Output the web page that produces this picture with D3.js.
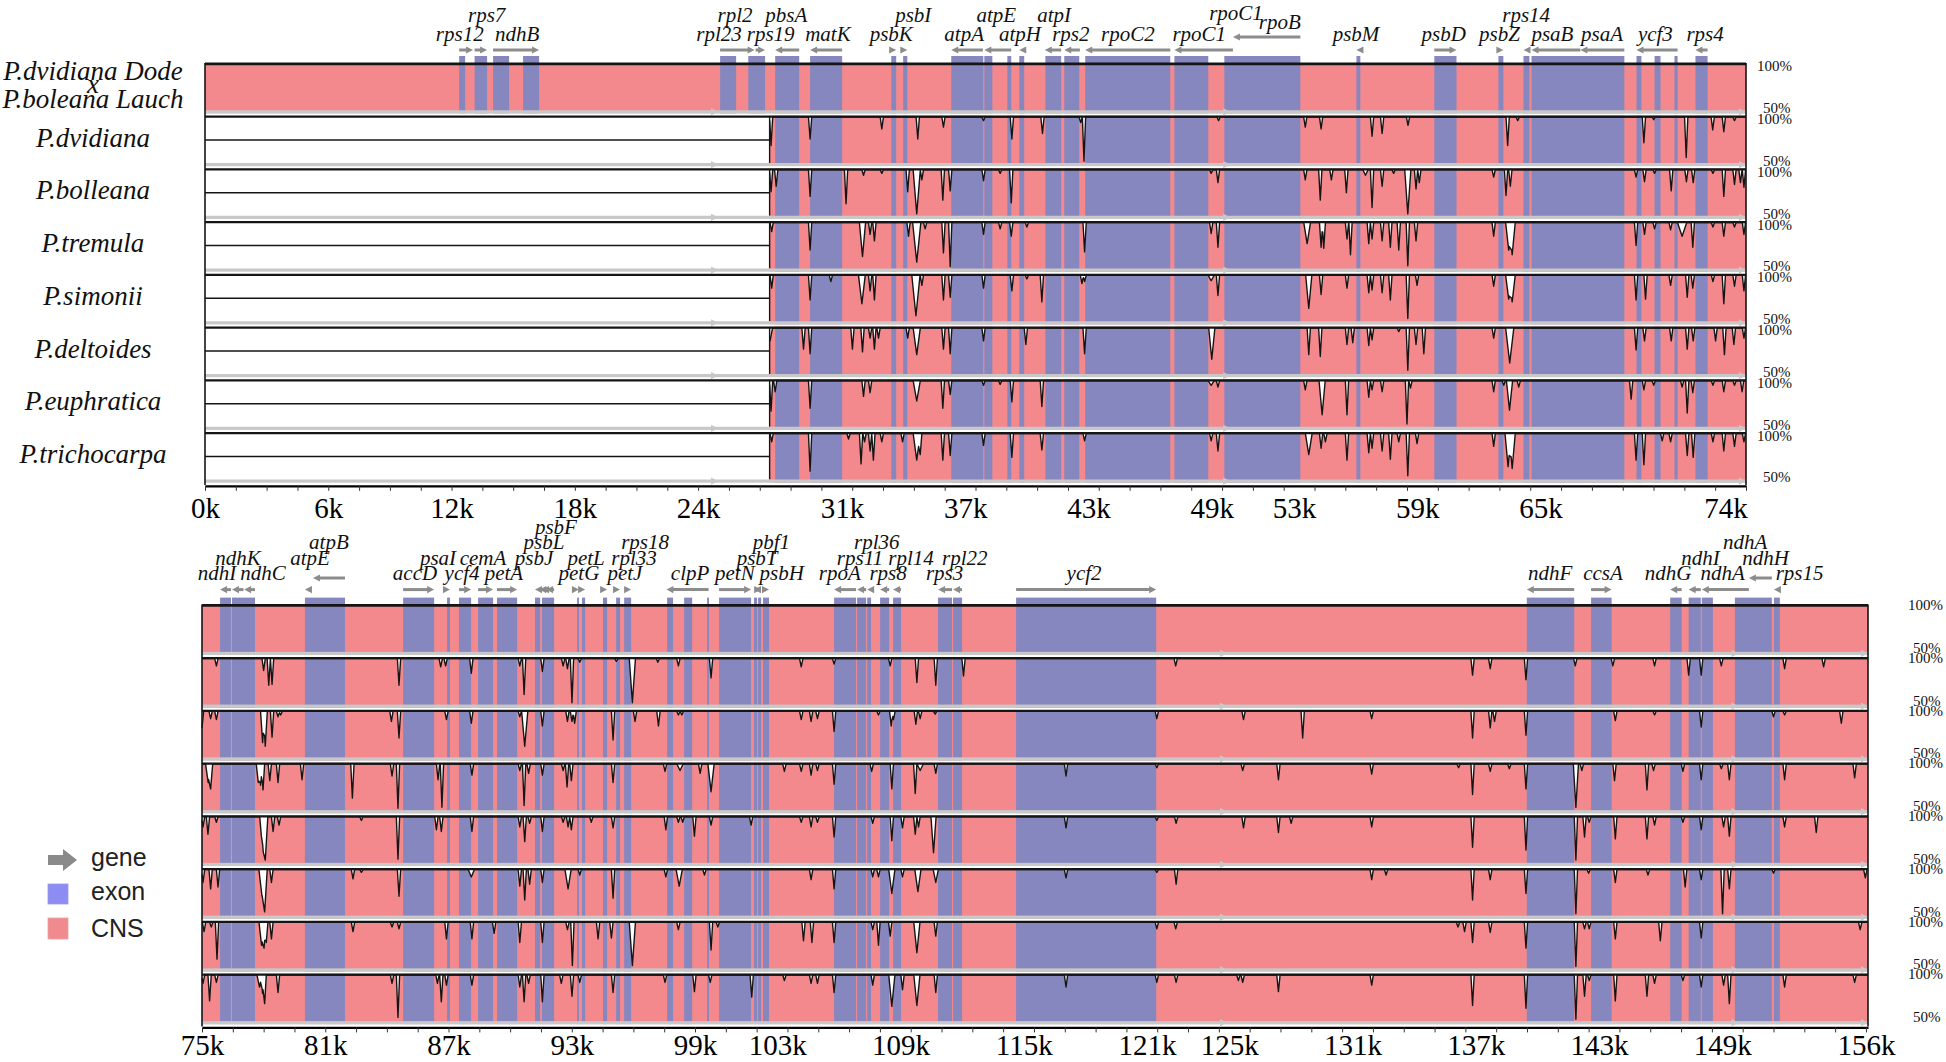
<!DOCTYPE html>
<html><head><meta charset="utf-8">
<script src="https://cdn.jsdelivr.net/npm/d3@7"></script>
<style>html,body{margin:0;padding:0;background:#fff}svg{display:block}</style>
</head><body>
<svg id="chart" width="1946" height="1062"></svg>
<script>
// ---------------- DATA ----------------
const species = ["P.dvidiana","P.bolleana","P.tremula","P.simonii","P.deltoides","P.euphratica","P.trichocarpa"];
const referenceLabel = ["P.dvidiana Dode","x","P.boleana Lauch"];
const topTickValues = [0,6,12,18,24,31,37,43,49,53,59,65,74];
const bottomTickValues = [75,81,87,93,99,103,109,115,121,125,131,137,143,149,156];
const pctLabels = ["100%","50%"];
const legendItems = ["gene","exon","CNS"];

// exon blocks [start kb, end kb]
const topExons = [[12.37,12.66],[13.12,13.73],[14.02,14.80],[15.48,16.26],[25.07,25.85],[26.44,27.26],[27.75,28.92],[29.45,31.01],
[33.40,33.64],[33.98,34.18],[36.32,37.88],[37.93,38.32],[39.05,39.24],[39.63,39.87],[40.90,41.67],[41.82,42.55],[42.84,46.98],
[47.18,48.83],[49.61,53.31],[56.04,56.23],[59.83,60.91],[62.95,63.19],[64.17,64.46],[64.56,69.08],[69.67,69.91],[70.55,70.84],
[71.52,71.67],[72.54,73.13]];
const bottomExons = [[75.88,76.41],[76.46,77.58],[80.01,81.96],[84.79,86.30],[86.93,87.07],[87.51,88.10],[88.44,89.17],[89.36,90.34],
[91.21,91.46],[91.55,92.14],[93.26,93.35],[93.50,93.65],[94.52,94.72],[95.16,95.35],[95.55,95.89],[97.64,97.93],[98.47,98.86],
[99.59,99.68],[100.17,101.73],[101.87,102.02],[102.07,102.22],[102.31,102.60],[105.77,106.84],[106.89,107.33],[107.38,107.57],
[108.01,108.45],[108.64,109.03],[110.83,111.51],[111.56,112.00],[114.63,121.45],[139.49,141.80],[142.62,143.62],[146.47,147.03],
[147.37,147.96],[148.01,148.55],[149.62,151.42],[151.52,151.81]];

// gene arrows [name, start, end, strand, raised]
const topGenes = [["rps12",12.37,13.05,1,0],["rps7",13.12,13.73,1,0],["ndhB",14.02,16.26,1,0],["rpl2",25.07,26.75,1,0],["rpl23",26.8,27.26,1,0],
["psbA",27.75,28.92,-1,0],["matK",29.45,31.01,-1,0],["psbK",33.40,33.64,1,0],["psbI",33.98,34.18,1,0],["atpA",36.32,37.86,-1,0],
["atpF",37.93,39.24,-1,0],["atpH",39.63,39.87,-1,0],["atpI",40.87,41.67,-1,0],["rps2",41.82,42.58,-1,0],["rpoC2",42.84,46.98,-1,0],
["rpoC1",47.18,50.03,-1,0],["rpoB",50.03,53.31,-1,1],["psbM",56.04,56.23,-1,0],["psbD",59.83,60.91,1,0],["psbZ",62.95,63.19,1,0],
["rps14",64.17,64.46,-1,0],["psaB",64.56,66.94,-1,0],["psaA",66.94,69.08,-1,0],["ycf3",69.67,71.67,-1,0],["rps4",72.54,73.13,-1,0]];
const bottomGenes = [["ndhJ",75.88,76.41,-1,0],["ndhK",76.46,77.02,-1,0],["ndhC",77.05,77.58,-1,0],["atpE",80.01,80.37,-1,0],["atpB",80.40,81.96,-1,1],
["accD",84.79,86.30,1,0],["psaI",86.93,87.07,1,0],["ycf4",87.51,88.10,1,0],["cemA",88.44,89.17,1,0],["petA",89.36,90.34,1,0],
["psbJ",91.21,91.36,-1,0],["psbL",91.42,91.52,-1,0],["psbF",91.55,91.70,-1,0],["psbE",91.75,92.14,-1,0],["petL",93.26,93.35,1,0],
["petG",93.50,93.65,1,0],["psaJ",94.52,94.72,1,0],["rpl33",95.16,95.35,1,0],["rps18",95.55,95.89,1,0],["clpP",97.61,99.66,-1,0],
["psbB",100.17,101.73,1,0],["psbT",101.87,102.02,-1,0],["psbN",102.07,102.22,1,0],["psbH",102.31,102.60,1,0],["rpoA",105.77,106.84,-1,0],
["rps11",106.89,107.33,-1,0],["rpl36",107.38,107.57,-1,0],["rps8",108.01,108.45,-1,0],["rpl14",108.64,109.03,-1,0],["rps3",110.83,111.51,-1,0],
["rpl22",111.56,112.00,-1,0],["ycf2",114.63,121.45,1,0],["ndhF",139.49,141.80,-1,0],["ccsA",142.62,143.62,1,0],["ndhG",146.47,147.03,-1,0],
["ndhI",147.37,147.96,-1,0],["ndhA",148.01,150.30,-1,0],["ndhH",150.30,151.42,-1,1],["rps15",151.52,151.81,-1,0]];

// gene labels [text, kb, stack level]
const topLabels = [["rps7",13.71,1],["rps12",12.4,0],["ndhB",15.19,0],["rpl2",25.8,1],["rpl23",25.02,0],["pbsA",28.29,1],["rps19",27.53,0],
["matK",30.32,0],["psbI",34.47,1],["psbK",33.4,0],["atpE",38.51,1],["atpA",36.95,0],["atpH",39.66,0],["atpI",41.33,1],["rps2",42.14,0],
["rpoC2",44.92,0],["rpoC1",50.18,1.1],["rpoB",52.31,0.65],["rpoC1",48.39,0],["psbM",56.02,0],["psbD",60.29,0],["psbZ",63.0,0],
["rps14",64.3,1],["psaB",65.58,0],["psaA",67.99,0],["ycf3",70.59,0],["rps4",73.01,0]];
const bottomLabels = [["ndhK",76.75,1],["ndhI",75.73,0],["ndhC",77.97,0],["atpB",81.18,2],["atpE",80.26,1],["accD",85.37,0],["psaI",86.49,1],
["cemA",88.68,1],["ycf4",87.66,0],["petA",89.7,0],["psbF",92.23,3],["psbL",91.65,2],["psbJ",91.16,1],["petL",93.7,1],["petG",93.35,0],
["rpl33",96.03,1],["petJ",95.59,0],["rps18",96.57,2],["clpP",98.76,0],["pbf1",102.72,2],["psbT",102.02,1],["petN",100.94,0],["psbH",103.22,0],
["rpl36",107.85,2],["rps11",107.03,1],["rpl14",109.52,1],["rpoA",106.05,0],["rps8",108.4,0],["rpl22",112.13,1],["rps3",111.15,0],
["ycf2",117.94,0],["ndhF",140.63,0],["ccsA",143.2,0],["ndhG",146.37,0],["ndhA",149.02,0],["ndhI",147.95,1],["ndhA",150.12,2],
["ndhH",151.12,1],["rps15",152.77,0]];

// contig arrow marks on the grey baseline (kb)
const topBarArrows = [24.97,49.9,75.0];
const bottomBarArrows = [124.9,149.8,156.1];
const topDataStart = 27.48;

// conservation dips [kb, identity %, optional width kb]
const dvidianaTop = [[27.55,69],[29.45,76],[32.94,87],[34.69,76],[35.94,89],[37.89,96],[39.27,76],[40.76,82],[42.62,94],[42.78,52],[49.33,96],
[53.55,89],[54.32,87],[56.8,79],[57.29,82],[58.55,91],[63.4,69],[63.89,96],[70.03,72],[70.51,97],[72.09,56],[73.38,86],[73.92,84],[74.44,96]];
const bolleanaTop = [[27.55,76],[27.8,82],[29.45,71],[31.2,63],[32.05,94],[32.94,96],[34.2,76],[34.64,52,0.35],[34.89,89],[35.91,67],[36.27,77],
[37.89,88],[38.7,96],[39.24,64],[48.97,96],[49.3,86],[53.55,89],[54.28,67],[54.82,89],[55.55,75],[56.48,94,0.25],[56.8,59],[57.29,82],
[57.85,96],[58.54,52,0.3],[58.94,79],[59.1,86],[62.72,92],[63.32,72],[63.53,82],[69.65,92],[70.06,87],[70.55,96],[71.36,77],[72.1,87],
[72.43,86],[73.39,96],[73.92,71],[74.44,84],[74.73,86],[74.9,81]];
const tremulaTop = [[27.58,90],[29.45,70],[32.0,63,0.3],[32.37,87],[32.58,80],[34.24,85],[34.64,57,0.4],[35.05,93],[35.94,67],[36.27,52],
[37.89,87],[38.7,93],[39.24,85],[40.0,95],[42.81,68],[48.97,88],[49.3,73],[53.64,77,0.33],[54.32,73],[54.45,72],[55.58,82],[55.75,65],
[56.64,77],[56.8,82],[57.29,80],[57.69,73],[58.1,70],[58.54,53],[58.94,80],[62.72,85],[63.45,70,0.3],[63.62,65,0.3],[69.65,75],[70.06,87],[70.55,93],
[71.33,92],[71.89,85,0.45],[72.41,73],[73.39,95],[73.92,85],[74.44,95],[74.9,87]];
const simoniiTop = [[27.58,86],[29.45,73],[30.46,93],[31.97,69,0.33],[32.37,83],[32.58,73],[34.6,56,0.4],[34.89,89],[35.94,73],[36.27,76],
[37.89,86],[39.27,83],[40.0,96],[40.73,71],[42.68,91],[42.81,93],[48.97,94,0.3],[49.3,78],[53.72,64,0.3],[54.32,79],[55.58,86],[56.64,81],
[56.8,84],[57.29,81],[57.69,73],[58.54,53],[58.99,89],[62.72,88],[63.45,74,0.3],[63.62,71,0.3],[69.65,73],[70.11,74],[71.33,89],[72.14,76],[72.41,86],
[73.39,93],[73.92,69],[74.44,88],[74.9,83]];
const deltoidesTop = [[27.5,86,0.25],[29.13,77],[29.45,72],[31.51,77],[32.0,74],[32.37,89],[32.58,77],[32.78,89],[34.2,89],[34.64,71,0.35],
[35.94,77],[36.27,72],[37.89,86],[39.95,82],[42.81,72],[49.0,66,0.3],[53.72,71],[54.28,69],[55.58,82],[55.86,84],[56.64,81],[56.8,87],
[58.1,96],[58.54,54],[58.94,82],[59.32,72],[62.72,89],[63.5,62,0.4],[69.65,76],[70.06,86],[71.36,86],[72.14,77],[72.43,86],[73.52,86],
[73.95,71],[74.41,82],[74.9,89]];
const euphraticaTop = [[27.55,67],[27.75,88],[29.45,70],[32.05,83],[32.37,87],[34.64,78,0.35],[35.91,70],[36.27,85],[37.89,95],[38.7,96],
[39.27,77],[40.73,72],[48.97,95,0.3],[49.3,93],[53.55,90],[54.37,63,0.3],[55.58,63],[56.64,82],[56.8,90],[57.29,88],[58.5,53],[58.67,92],
[62.72,88],[63.21,95],[63.49,68,0.3],[63.94,93],[69.41,80],[70.03,90],[70.51,95],[71.89,93],[72.14,65],[72.41,87],[73.39,95],[73.92,88],
[74.44,95],[74.81,88]];
const trichocarpaTop = [[27.58,91],[29.45,59],[31.32,94],[31.93,67],[32.1,91],[32.37,81],[32.53,71],[32.94,91],[33.95,91],[34.64,71,0.35],
[34.81,77],[35.91,71],[36.27,76],[37.89,87],[39.27,74],[40.73,82],[42.81,92],[48.97,92],[49.3,81],[53.72,77,0.33],[54.32,84],[54.53,91],
[55.58,71],[56.64,79],[56.8,84],[57.29,81],[57.69,72],[58.1,91],[58.54,54],[58.99,89],[62.72,86],[63.42,64,0.3],[63.62,62,0.3],[69.65,71],[70.03,66],
[70.92,92],[71.33,91],[72.14,76],[72.43,74],[73.39,91],[73.92,81],[74.44,86],[74.9,91]];

const dvidianaBottom = [[75.7,92],[78.0,87],[78.25,71],[78.41,72],[84.59,71],[86.62,91],[86.86,92],[88.11,84],[90.47,92],[90.68,61],[91.57,86],
[92.58,92],[92.79,89],[93.01,52],[93.39,96],[95.17,97],[95.95,52,0.3],[97.19,96],[98.19,92],[99.78,79],[104.17,91],[105.77,94],[108.5,92],
[109.8,74],[110.72,71],[112.07,81],[122.4,92],[136.85,82],[137.71,89],[139.45,77],[141.85,92],[143.68,92],[145.71,92],[147.37,82],
[147.98,82],[148.96,92],[152.04,89],[153.94,91]];
const bolleanaBottom = [[75.0,82],[75.42,92],[75.7,91],[77.95,66,0.2],[78.08,62,0.2],[78.41,72],[78.7,94],[78.83,96],[84.22,89],[84.59,71],[86.9,91],
[88.11,87],[90.47,94],[90.71,62,0.3],[91.57,84],[92.79,89],[93.01,89],[93.14,87],[95.01,69],[96.08,89],[97.22,84],[98.19,96],[98.36,96],
[104.17,91],[104.65,89],[104.96,92],[105.77,78],[107.93,96],[108.55,84],[108.66,91],[109.75,86],[109.96,92],[110.69,97],[121.48,92],
[125.7,91],[128.58,71],[131.94,92],[136.85,71],[137.71,82],[137.92,89],[139.45,74],[143.8,90],[145.71,96],[147.98,83],[151.5,94],
[152.04,96],[154.8,87]];
const tremulaBottom = [[75.3,80,0.25],[75.42,73,0.2],[77.74,80,0.2],[77.85,77,0.2],[77.97,72],[78.3,82],[78.7,80],[79.87,83],[82.32,63],[84.25,87],[84.54,52],[86.49,83],
[86.68,53],[88.14,88],[90.47,93],[90.68,55],[90.9,90],[91.57,88],[92.58,93],[92.77,75],[92.98,82],[95.01,80],[97.54,92],[98.27,93,0.3],
[99.25,90],[99.78,70,0.3],[103.35,92],[104.17,92],[104.65,88],[104.96,93],[105.77,78],[107.6,92],[108.58,73],[109.72,68],[109.96,93,0.3],
[110.72,90],[117.06,87],[121.48,96],[125.66,93],[127.4,83],[131.94,89],[136.17,96],[136.85,67],[137.71,92],[138.64,95],[139.45,73],
[141.88,53,0.25],[142.17,93],[143.76,82],[145.34,72],[145.66,93],[147.09,92],[147.98,83],[148.96,95],[149.35,83],[152.04,83],[155.45,85]];
const simoniiBottom = [[75.05,89],[75.29,81],[75.7,94],[77.89,79],[77.98,62,0.25],[78.08,53,0.25],[78.46,84],[78.75,91],[82.76,96],[84.54,54],[86.41,86],
[86.65,84],[88.14,84],[90.47,89],[90.71,73],[90.95,93],[91.57,84],[92.58,94],[92.82,89],[92.98,86],[93.95,94],[95.01,88],[97.58,86],
[98.19,94],[98.4,94],[98.97,79],[99.78,91],[101.73,91],[104.17,94],[104.65,89],[104.96,94],[105.77,78],[107.65,93],[108.58,74],[109.1,88],
[109.72,81],[109.88,89],[110.61,61,0.25],[117.06,88],[121.48,96],[122.42,93],[125.7,88],[127.4,83],[128.02,93],[131.94,89],[136.85,67],
[139.45,64],[141.88,53],[142.3,78],[142.53,94],[143.8,76],[145.34,76],[145.71,91],[147.09,94],[147.98,86],[149.07,89],[149.35,79],
[152.04,89],[153.58,83]];
const deltoidesBottom = [[75.05,86],[75.42,79],[75.78,81],[77.92,71,0.3],[78.05,54,0.25],[78.38,86],[82.35,90],[82.76,97],[84.59,71],[88.11,92,0.3],
[90.47,82],[90.71,67],[90.95,84],[91.57,86],[92.82,79,0.3],[93.39,94],[95.01,69],[97.58,92],[98.23,82,0.3],[99.46,94],[104.65,89],
[105.77,79],[107.65,92],[107.93,92],[108.58,74,0.3],[109.1,92],[109.85,76,0.3],[110.72,86,0.25],[117.06,91],[121.48,97],[122.42,84],
[131.94,89],[132.64,94],[136.85,67],[137.71,89],[139.45,74],[141.88,52],[142.5,96],[143.8,86],[145.39,94],[147.2,81],[147.98,89],
[149.02,52],[149.35,79],[151.5,96],[155.97,91]];
const euphraticaBottom = [[75.1,90],[75.45,95],[75.73,60],[77.9,75,0.25],[78.02,72,0.2],[78.13,78],[78.38,82],[82.35,90],[84.25,95],[84.59,93],[86.9,82],
[88.14,82],[89.22,88],[90.47,78],[91.57,78],[92.79,92],[93.03,53],[94.28,82],[94.93,83],[95.95,53,0.3],[98.19,92],[99.78,70],[100.11,95],
[104.28,80],[104.69,78],[105.77,78],[107.65,92],[107.93,75],[108.5,85],[109.8,67,0.3],[110.72,85],[121.48,93],[122.4,93],[136.14,95],
[136.46,90],[136.85,78],[137.71,89],[139.45,72],[141.88,52],[142.3,93],[142.53,93],[143.8,82],[145.99,80],[147.98,83],[155.72,92]];
const trichocarpaBottom = [[75.05,91],[75.37,72],[75.7,92],[77.8,87,0.25],[77.95,80,0.2],[78.05,69],[78.7,81],[84.25,91],[84.54,54],[86.46,91],[86.65,71],
[86.9,89],[88.14,89],[90.47,87],[90.68,71],[90.9,91],[91.57,71],[92.49,91],[93.01,77],[93.39,92],[95.01,81],[97.54,92],[98.97,82],
[99.74,92],[101.76,76],[103.35,94],[104.65,91],[104.96,91],[105.77,81],[107.65,89],[108.58,66,0.3],[109.1,84],[109.8,67,0.3],[110.72,81],
[117.06,87],[121.48,92],[122.42,92],[125.45,94],[125.66,92],[127.4,82],[131.94,89],[136.85,67],[139.45,64],[141.88,52],[142.3,77],
[142.53,94],[143.8,72],[145.34,77],[145.71,91],[147.09,94],[147.98,87],[149.07,89],[149.35,69],[152.04,87],[155.45,92]];

// ---------------- DRAWING ----------------
const COL = {cns:"#F4898D", exon:"#8787C0", gray:"#C8C8C8", arrow:"#8C8C8C", line:"#151515",
             legExon:"#8C8CF2", legCns:"#EF8A8E"};
const SERIF = "'Liberation Serif','Times New Roman',serif";
const SANS = "'Liberation Sans',Arial,sans-serif";
const ROWH = 52.75;
const svg = d3.select("#chart");

const panels = [
  {domain:[0,75], range:[205,1746], top:63, exons:topExons, genes:topGenes, labels:topLabels,
   spikes:[dvidianaTop,bolleanaTop,tremulaTop,simoniiTop,deltoidesTop,euphraticaTop,trichocarpaTop],
   tickVals:topTickValues, dataStart:topDataStart, lblBase:35, lblStep:19, arrowY:50, raisedY:37,
   p100x:1757, p50x:1763, p100dy:5, p50dy:-6, barArrows:topBarArrows, tickPad:12},
  {domain:[75,156.1], range:[202,1868], top:604.6, exons:bottomExons, genes:bottomGenes, labels:bottomLabels,
   spikes:[dvidianaBottom,bolleanaBottom,tremulaBottom,simoniiBottom,deltoidesBottom,euphraticaBottom,trichocarpaBottom],
   tickVals:bottomTickValues, dataStart:null, lblBase:574, lblStep:15.5, arrowY:589.6, raisedY:578,
   p100x:1908, p50x:1913, p100dy:2, p50dy:-8, barArrows:bottomBarArrows, tickPad:7}
];

function curvePoints(spikes, x0, x1){
  const S = spikes.map(s=>({c:s[0], v:s[1], h:(s[2]||0.16)/2}));
  let xs = new Set([x0,x1]);
  S.forEach(s=>{xs.add(s.c-s.h); xs.add(s.c); xs.add(s.c+s.h);});
  xs = [...xs].filter(x=>x>=x0 && x<=x1).sort((a,b)=>a-b);
  return xs.map(x=>{
    let v = 100;
    S.forEach(s=>{const d=Math.abs(x-s.c); if(d<=s.h){const vv=s.v+(100-s.v)*d/s.h; if(vv<v) v=vv;}});
    return [x,v];
  });
}

panels.forEach(p=>{
  const x = d3.scaleLinear().domain(p.domain).range(p.range);
  const g = svg.append("g");
  const bottomY = p.top + 8*ROWH;

  for(let r=0;r<8;r++){
    const yTop = p.top + r*ROWH;
    const y = d3.scaleLinear().domain([50,100]).range([yTop+ROWH-5.5, yTop+1.2]);
    const fillBottom = yTop + ROWH - 2.5;
    const startKb = (r>0 && p.dataStart!=null) ? p.dataStart : p.domain[0];
    const xs = x(startKb);
    g.append("rect").attr("x",xs).attr("y",yTop).attr("width",p.range[1]-xs)
      .attr("height",fillBottom-yTop).attr("fill",COL.cns);
    const ex = p.exons.filter(e=>e[1]>startKb);
    const exTop = r===0 ? p.top-7 : yTop;
    g.selectAll(null).data(ex).enter().append("rect")
      .attr("x",e=>x(Math.max(e[0],startKb)))
      .attr("width",e=>x(e[1])-x(Math.max(e[0],startKb)))
      .attr("y",exTop).attr("height",fillBottom-exTop).attr("fill",COL.exon);

    if(r>0){
      const pts = curvePoints(p.spikes[r-1], startKb, p.domain[1]);
      g.append("path").datum(pts)
        .attr("d", d3.area().x(d=>x(d[0])).y0(y(100)-0.5).y1(d=>y(d[1])))
        .attr("fill","#fff");
      g.append("path").datum(pts)
        .attr("d", d3.line().x(d=>x(d[0])).y(d=>y(d[1])))
        .attr("fill","none").attr("stroke",COL.line).attr("stroke-width",1.4).attr("stroke-linejoin","round");
      if(p.dataStart!=null){
        g.append("line").attr("x1",x(p.dataStart)).attr("x2",x(p.dataStart)).attr("y1",y(50)).attr("y2",y(100))
          .attr("stroke",COL.line).attr("stroke-width",1.4);
        g.append("line").attr("x1",p.range[0]).attr("x2",x(p.dataStart)).attr("y1",y(75)).attr("y2",y(75))
          .attr("stroke",COL.line).attr("stroke-width",1.3);
      }
    }
    // 100% line
    g.append("line").attr("x1",p.range[0]).attr("x2",p.range[1]).attr("y1",yTop+0.8).attr("y2",yTop+0.8)
      .attr("stroke",COL.line).attr("stroke-width", r===0?2.8:2.2);
    // grey baseline
    g.append("rect").attr("x",p.range[0]).attr("y",yTop+ROWH-5.5).attr("width",p.range[1]-p.range[0])
      .attr("height",3.2).attr("fill",COL.gray);
    g.selectAll(null).data(p.barArrows).enter().append("path")
      .attr("d",k=>{const t=x(k), c=yTop+ROWH-3.9; return `M${t},${c}L${t-7},${c-3.6}L${t-7},${c+3.6}Z`;})
      .attr("fill",COL.gray);
    // percent labels
    g.append("text").attr("x",p.p100x).attr("y",yTop+p.p100dy).attr("dominant-baseline","middle")
      .style("font",`15px ${SERIF}`).attr("fill","#111").text(pctLabels[0]);
    g.append("text").attr("x",p.p50x).attr("y",yTop+ROWH+p.p50dy).attr("dominant-baseline","middle")
      .style("font",`15px ${SERIF}`).attr("fill","#111").text(pctLabels[1]);
  }

  // frame
  [p.range[0],p.range[1]].forEach(xx=>{
    g.append("line").attr("x1",xx).attr("x2",xx).attr("y1",p.top).attr("y2",bottomY)
      .attr("stroke",COL.line).attr("stroke-width",1.6);
  });

  // axes
  const minor = d3.range(p.domain[0], p.domain[1]+0.001, 1.5);
  const ax = g.append("g").attr("transform",`translate(0,${bottomY+0.8})`)
    .call(d3.axisBottom(x).tickValues(minor).tickSize(5).tickSizeOuter(0).tickFormat(()=>""));
  ax.select(".domain").attr("stroke","#000").attr("stroke-width",2.2);
  ax.selectAll(".tick line").attr("stroke","#333");
  const lab = g.append("g").attr("transform",`translate(0,${bottomY+0.8})`)
    .call(d3.axisBottom(x).tickValues(p.tickVals).tickSize(0).tickPadding(p.tickPad).tickFormat(d=>d+"k"));
  lab.select(".domain").remove();
  lab.selectAll("text").style("font",`29px ${SERIF}`).attr("fill","#000");

  // gene arrows
  p.genes.forEach(gn=>{
    const [, s, e, strand, raised] = gn;
    const yy = raised ? p.raisedY : p.arrowY;
    const x0 = x(s), x1 = x(e), head = 7, hh = 3.6;
    if(x1-x0 > head+1){
      const a = strand>0 ? x0 : x0+head-1, b = strand>0 ? x1-head+1 : x1;
      g.append("line").attr("x1",a).attr("x2",b).attr("y1",yy).attr("y2",yy)
        .attr("stroke",COL.arrow).attr("stroke-width",3);
    }
    const tip = strand>0 ? x1 : x0, base = strand>0 ? tip-head : tip+head;
    g.append("path").attr("d",`M${tip},${yy}L${base},${yy-hh}L${base},${yy+hh}Z`).attr("fill",COL.arrow);
  });

  // gene labels
  g.selectAll(null).data(p.labels).enter().append("text")
    .attr("x",d=>x(d[1])).attr("y",d=>p.lblBase - p.lblStep*d[2] + 6)
    .attr("text-anchor","middle").style("font",`italic 21px ${SERIF}`).attr("fill","#111")
    .text(d=>d[0]);
});

// row labels
const rowLab = svg.append("g").style("font",`italic 27px ${SERIF}`).attr("fill","#111").attr("text-anchor","middle");
species.forEach((s,i)=>{
  const cy = 63 + (i+1.5)*ROWH;
  rowLab.append("text").attr("x",93).attr("y",cy+4.5).text(s);
});
[79.5,93,107.5].forEach((yy,i)=>rowLab.append("text").attr("x",93).attr("y",yy).text(referenceLabel[i]));

// legend
const lg = svg.append("g");
lg.append("path").attr("d","M48,855L63,855L63,849L77,860L63,871L63,865L48,865Z").attr("fill","#8a8a8a");
lg.append("rect").attr("x",48).attr("y",884).attr("width",20).attr("height",20).attr("fill",COL.legExon).attr("stroke","#9a9ae8").attr("stroke-width",0.8);
lg.append("rect").attr("x",48).attr("y",918).attr("width",20).attr("height",21).attr("fill",COL.legCns).attr("stroke","#eaa0a2").attr("stroke-width",0.8);
[866,900,937].forEach((yy,i)=>lg.append("text").attr("x",91).attr("y",yy).style("font",`25px ${SANS}`).attr("fill","#222").text(legendItems[i]));
</script>
</body></html>
